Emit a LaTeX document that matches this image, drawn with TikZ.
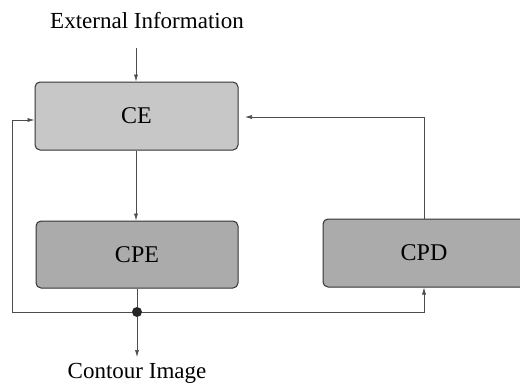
\documentclass[tikz,border=0pt]{standalone}
\usepackage{fontspec}
\setmainfont{Liberation Serif}
\usetikzlibrary{arrows.meta}
\begin{document}
\begin{tikzpicture}[x=1pt,y=-1pt,
  blk/.style={draw=black!80, line width=1pt, rounded corners=5pt, inner sep=0pt,
    font=\fontsize{24}{27}\selectfont},
  conn/.style={draw=black!70, line width=0.6pt, -{Latex[length=7pt,width=4pt]}},
  lbl/.style={font=\fontsize{23}{26}\selectfont, inner sep=0pt}]
\useasboundingbox (0,0) rectangle (520,386);
\node[lbl] (ext) at (147,21) {External Information};
\node[blk, fill=black!22, minimum width=203pt, minimum height=68pt] (ce) at (136.5,116) {CE};
\node[blk, fill=black!33, minimum width=202pt, minimum height=67pt] (cpe) at (137,254.5) {CPE};
\node[blk, fill=black!33, minimum width=202pt, minimum height=68pt] (cpd) at (424,253) {CPD};
\node[circle, fill=black!85, minimum size=10pt, inner sep=0pt] (dot) at (137,312) {};
\node[lbl] (out) at (137,373) {Contour Image};
\coordinate (extarr) at (136,48);
\coordinate (outarr) at (137,357);
\coordinate (lc) at (12,312);
\coordinate (lt) at (12,120);
\coordinate (rt) at (424,117);
\coordinate (cetip) at (245,117);
\draw[conn] (extarr) -- (ce.north -| extarr);
\draw[conn] (ce.south -| extarr) -- (cpe.north -| extarr);
\draw[draw=black!70, line width=0.6pt] (cpe.south) -- (dot);
\draw[conn] (dot) -- (outarr);
\draw[conn] (dot) -- (lc) -- (lt) -- (ce.west |- lt);
\draw[conn] (dot) -- (cpd.south |- dot) -- (cpd.south);
\draw[conn] (cpd.north) -- (rt) -- (cetip);
\end{tikzpicture}
\end{document}
